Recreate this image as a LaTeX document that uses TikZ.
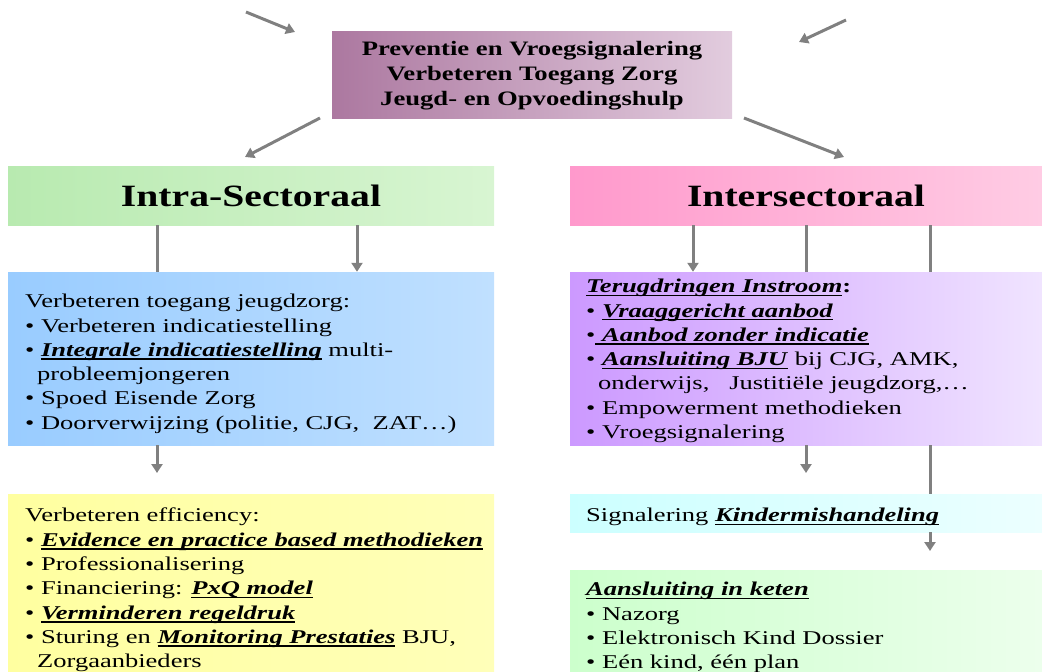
\documentclass[tikz,border=0pt]{standalone}
\usepackage{fontspec}
\setmainfont{Liberation Serif}
\newfontfamily\wideA{Liberation Serif}[FakeStretch=1.36]
\newfontfamily\wideB{Liberation Serif}[FakeStretch=1.28]
\newfontfamily\wideC{Liberation Serif}[FakeStretch=1.3]
\usetikzlibrary{arrows.meta}
\definecolor{arrowgray}{RGB}{128,128,128}
\newsavebox{\ubbox}
\newcommand{\ub}[1]{\sbox{\ubbox}{\textbf{\textit{#1}}}\rlap{\rule[-3.4pt]{\wd\ubbox}{1.5pt}}\usebox{\ubbox}}
\newcommand{\bl}{\textbullet\ }
\begin{document}
\begin{tikzpicture}[x=1pt,y=-1pt,
  box/.style={rectangle, inner sep=0pt, draw=none},
  txt/.style={anchor=north west, align=left, inner sep=0pt, font=\wideA\fontsize{19.5}{24.3}\selectfont},
  head/.style={inner sep=0pt, font=\wideB\bfseries\fontsize{31}{36}\selectfont},
  conn/.style={draw=arrowgray, line width=3pt},
  arr/.style={conn, -{Triangle[width=11pt,length=9pt]}}]
\useasboundingbox (0,0) rectangle (1042,672);
% boxes
\node[box, left color={rgb,255:red,172;green,120;blue,160}, right color={rgb,255:red,226;green,204;blue,222}, minimum width=400pt, minimum height=87pt] (top) at (532,74.5) {};
\node[box, left color={rgb,255:red,184;green,234;blue,176}, right color={rgb,255:red,216;green,245;blue,210}, minimum width=486pt, minimum height=59pt] (intra) at (251,195.5) {};
\node[box, left color={rgb,255:red,255;green,153;blue,204}, right color={rgb,255:red,255;green,204;blue,228}, minimum width=472pt, minimum height=59pt] (inter) at (806,195.5) {};
\node[box, left color={rgb,255:red,153;green,204;blue,255}, right color={rgb,255:red,192;green,224;blue,255}, minimum width=486pt, minimum height=173pt] (blue) at (251,358.5) {};
\node[box, left color={rgb,255:red,255;green,255;blue,160}, right color={rgb,255:red,255;green,255;blue,185}, minimum width=486pt, minimum height=180pt] (yellow) at (251,584) {};
\node[box, left color={rgb,255:red,204;green,153;blue,255}, right color={rgb,255:red,240;green,228;blue,255}, minimum width=472pt, minimum height=173pt] (purple) at (806,358.5) {};
\node[box, left color={rgb,255:red,204;green,255;blue,255}, right color={rgb,255:red,236;green,255;blue,255}, minimum width=472pt, minimum height=38pt] (cyan) at (806,513) {};
\node[box, left color={rgb,255:red,204;green,255;blue,204}, right color={rgb,255:red,236;green,255;blue,236}, minimum width=472pt, minimum height=104pt] (green) at (806,622) {};
% texts
\node[inner sep=0pt, align=center, font=\wideC\bfseries\fontsize{20.5}{25}\selectfont] (toptxt) at ([yshift=-1pt]top.center) {Preventie en Vroegsignalering\\Verbeteren Toegang Zorg\\Jeugd- en Opvoedingshulp};
\node[head] (intratxt) at (intra.center) {Intra-Sectoraal};
\node[head] (intertxt) at (inter.center) {Intersectoraal};
\node[txt] (bluetxt) at (25,294) {Verbeteren toegang jeugdzorg:\\
\bl Verbeteren indicatiestelling\\
\bl \ub{Integrale indicatiestelling} multi-\\
\hspace*{12pt}probleemjongeren\\
\bl Spoed Eisende Zorg\\
\bl Doorverwijzing (politie, CJG,\ \ ZAT\ldots)};
\node[txt] (yellowtxt) at (25,508) {Verbeteren efficiency:\\
\bl \ub{Evidence en practice based methodieken}\\
\bl Professionalisering\\
\bl Financiering: \ub{PxQ model}\\
\bl \ub{Verminderen regeldruk}\\
\bl Sturing en \ub{Monitoring Prestaties} BJU,\\
\hspace*{12pt}Zorgaanbieders};
\node[txt] (purpletxt) at (586,279) {\ub{Terugdringen Instroom}\textbf{:}\\
\bl \ub{Vraaggericht aanbod}\\
\textbullet\ub{\ Aanbod zonder indicatie}\\
\bl \ub{Aansluiting BJU} bij CJG, AMK,\\
\hspace*{12pt}onderwijs,\ \ \ Justitiële jeugdzorg,\ldots\\
\bl Empowerment methodieken\\
\bl Vroegsignalering};
\node[txt] (cyantxt) at (586,508) {Signalering \ub{Kindermishandeling}};
\node[txt] (greentxt) at (586,582) {\ub{Aansluiting in keten}\\
\bl Nazorg\\
\bl Elektronisch Kind Dossier\\
\bl Eén kind, één plan};
% coordinates
\coordinate (tlA) at (246,12);
\coordinate (tlB) at (295,32);
\coordinate (trA) at (846,20);
\coordinate (trB) at (799,42);
\coordinate (dlA) at (320,118);
\coordinate (dlB) at (245,157);
\coordinate (drA) at (744,118);
\coordinate (drB) at (844,157);
\coordinate (xa) at (157,0);
\coordinate (xb) at (357,0);
\coordinate (xc) at (693,0);
\coordinate (xd) at (806,0);
\coordinate (xe) at (930,0);
\coordinate (ya) at (0,473);
\coordinate (yb) at (0,551);
% connectors
\draw[arr] (tlA) -- (tlB);
\draw[arr] (trA) -- (trB);
\draw[arr] (dlA) -- (dlB);
\draw[arr] (drA) -- (drB);
\draw[conn] (intra.south -| xa) -- (blue.north -| xa);
\draw[arr] (intra.south -| xb) -- (blue.north -| xb);
\draw[arr] (blue.south -| xa) -- (ya -| xa);
\draw[arr] (inter.south -| xc) -- (purple.north -| xc);
\draw[conn] (inter.south -| xd) -- (purple.north -| xd);
\draw[conn] (inter.south -| xe) -- (purple.north -| xe);
\draw[arr] (purple.south -| xd) -- (ya -| xd);
\draw[conn] (purple.south -| xe) -- (cyan.north -| xe);
\draw[arr] (cyan.south -| xe) -- (yb -| xe);
\end{tikzpicture}
\end{document}
